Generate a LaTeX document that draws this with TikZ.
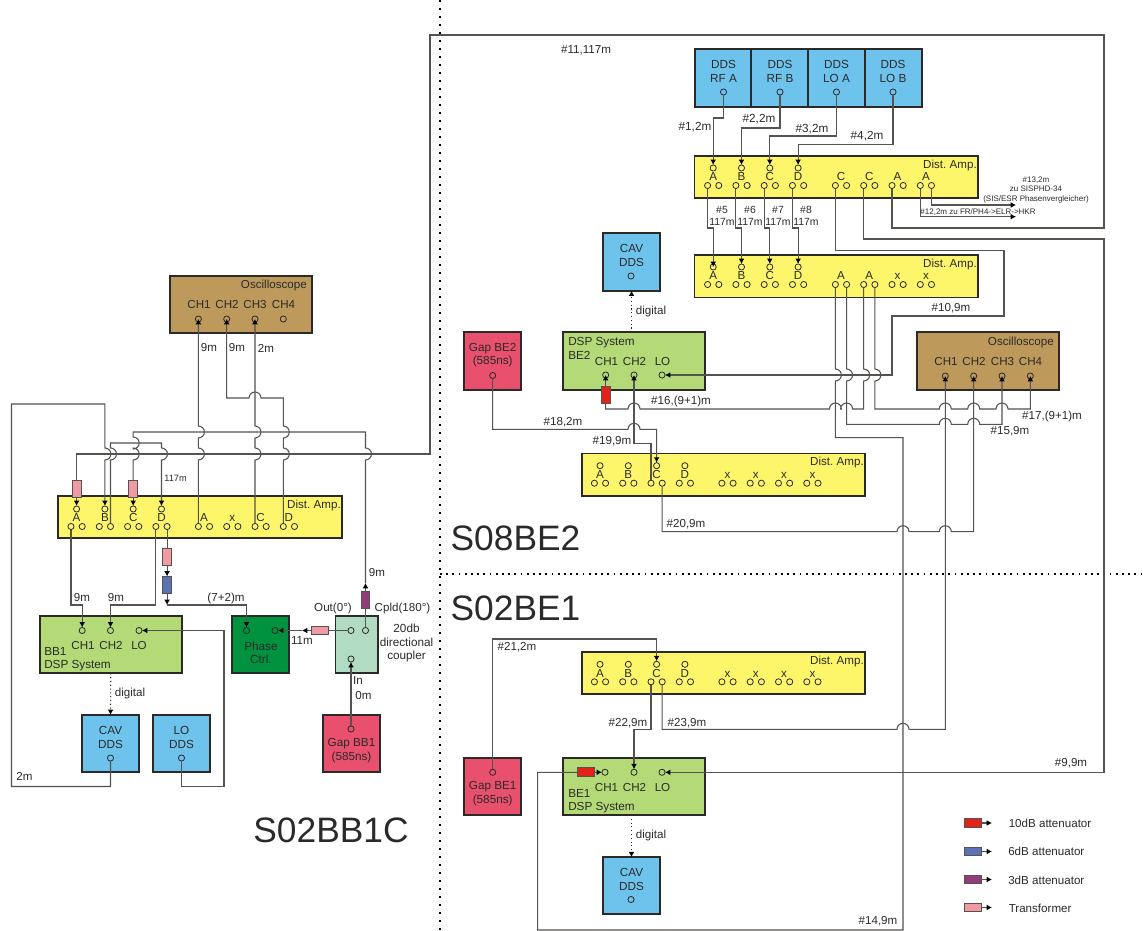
\documentclass[tikz,border=0pt]{standalone}
\usepackage{fontspec}
\setmainfont{Liberation Sans}
\usepackage{xcolor}
\usetikzlibrary{arrows.meta,calc}
\definecolor{ink}{HTML}{2B2A29}
\definecolor{wiregray}{HTML}{55524F}
\definecolor{ddsblue}{HTML}{6EC3EC}
\definecolor{ampyellow}{HTML}{FDF66A}
\definecolor{scopebrown}{HTML}{BD9A5C}
\definecolor{dspgreen}{HTML}{B3DA77}
\definecolor{phasegreen}{HTML}{00923F}
\definecolor{coupmint}{HTML}{B2DBC4}
\definecolor{gapred}{HTML}{E8506E}
\definecolor{attred}{HTML}{E2231A}
\definecolor{attblue}{HTML}{5B73B5}
\definecolor{attpurple}{HTML}{933C7C}
\definecolor{transpink}{HTML}{F09AA3}
% ports of one amplifier group: name, label, x, y of the upper port
\newcommand{\ampports}[4]{%
  \node[txt] (#1t) at (#3,#4+8.7) {#2};
  \node[port] (#1l) at (#3-5.6,#4+17.5) {};
  \node[port] (#1r) at (#3+5.6,#4+17.5) {};}
\newcommand{\ampin}[4]{%
  \node[port] (#1) at (#3,#4) {};
  \ampports{#1}{#2}{#3}{#4}}

\begin{document}
\frenchspacing
\begin{tikzpicture}[
    x=0.75pt, y=-0.75pt,
    box/.style={draw=ink, line width=1.4pt, inner sep=0pt, outer sep=0pt},
    ddsbox/.style={box, fill=ddsblue, minimum width=42.6pt, minimum height=42.9pt},
    gapbox/.style={box, fill=gapred, minimum width=42.6pt, minimum height=42.9pt},
    ampbox/.style={box, fill=ampyellow, minimum width=212.6pt, minimum height=31.9pt},
    scopebox/.style={box, fill=scopebrown, minimum width=106.4pt, minimum height=42.9pt},
    dspbox/.style={box, fill=dspgreen, minimum width=106.4pt, minimum height=42.9pt},
    port/.style={circle, draw=ink, line width=0.6pt, inner sep=0pt, outer sep=0pt, minimum size=4.6pt},
    txt/.style={font=\fontsize{8.7}{10}\selectfont, text=ink, inner sep=0pt, text height=6.2pt, text depth=0pt},
    lines/.style={font=\fontsize{8.8}{10}\selectfont, text=ink, inner sep=0pt, align=center},
    lenlbl/.style={font=\fontsize{8.7}{9.4}\selectfont, text=ink, inner sep=0pt, align=center},
    shortlbl/.style={font=\fontsize{7.8}{9.4}\selectfont, text=ink, inner sep=0pt, align=center},
    tiny/.style={font=\fontsize{6}{6.8}\selectfont, text=ink, inner sep=0pt, align=center},
    title/.style={font=\fontsize{26.5}{30}\selectfont, text=ink, inner sep=0pt},
    attv/.style={draw=wiregray, line width=0.7pt, inner sep=0pt, outer sep=0pt, minimum width=6.6pt, minimum height=12.8pt},
    atth/.style={draw=wiregray, line width=0.7pt, inner sep=0pt, outer sep=0pt, minimum width=13pt, minimum height=6.6pt},
    wire/.style={draw=wiregray, line width=0.8pt},
    arrow/.style={wire, -{Latex[length=4pt,width=4.4pt,color=black]}},
    digi/.style={draw=ink, line width=0.85pt, dotted, -{Latex[length=4pt,width=4.4pt,color=black]}},
    sector/.style={draw=black, line width=1.3pt, dash pattern=on 1.3pt off 4.7pt},
    sectorh/.style={draw=black, line width=1.3pt, dash pattern=on 1.3pt off 3.35pt},
    hopr/.style={to path={-- ($(\tikztotarget)+(-6,0)$) arc[start angle=180,end angle=360,radius=6]}},
    hopl/.style={to path={-- ($(\tikztotarget)+(6,0)$) arc[start angle=360,end angle=180,radius=6]}},
    hopd/.style={to path={-- ($(\tikztotarget)+(0,-6)$) arc[start angle=-90,end angle=90,radius=6]}},
    hopu/.style={to path={-- ($(\tikztotarget)+(0,6)$) arc[start angle=90,end angle=-90,radius=6]}}
]
\useasboundingbox (0,0) rectangle (1143,931);

% sector borders
\coordinate (sectop) at (440,0);
\coordinate (secbot) at (440,931);
\coordinate (secmid) at (440,574);
\coordinate (secend) at (1143,574);
\draw[sector] (sectop) -- (secbot);
\draw[sectorh] (secmid) -- (secend);

% S02BB1C
\node[scopebox] (sc) at (241,304.5) {};
\node[txt, anchor=east] (sct) at (307,284.5) {Oscilloscope};
\node[txt] (sc1t) at (199,304.5) {CH1};
\node[txt] (sc2t) at (227,304.5) {CH2};
\node[txt] (sc3t) at (255,304.5) {CH3};
\node[txt] (sc4t) at (283.5,304.5) {CH4};
\node[port] (scA) at (198.4,319) {};
\node[port] (scB) at (226.7,319) {};
\node[port] (scC) at (255,319) {};
\node[port] (scD) at (283.3,319) {};

\node[ampbox] (lamp) at (200,517) {};
\node[txt, anchor=east] (lampt) at (341,504.5) {Dist. Amp.};
\ampin{lA}{A}{76.6}{509}
\ampin{lB}{B}{104.9}{509}
\ampin{lC}{C}{133.2}{509}
\ampin{lD}{D}{161.5}{509}
\ampports{lE}{A}{204}{509}
\ampports{lF}{x}{232.3}{509}
\ampports{lG}{C}{260.6}{509}
\ampports{lH}{D}{288.9}{509}

\node[dspbox] (bb) at (110.75,644.7) {};
\node[lines, anchor=west, align=left] (bbt) at (44,659.5) {BB1\\DSP System};
\node[txt] (bb1t) at (83,645) {CH1};
\node[txt] (bb2t) at (111,645) {CH2};
\node[txt] (bb3t) at (139,645) {LO};
\node[port] (bbA) at (82.2,630.5) {};
\node[port] (bbB) at (110.5,630.5) {};
\node[port] (bbC) at (139,630.5) {};

\node[ddsbox] (cavl) at (110.5,743.5) {};
\node[lines] (cavlt) at (110.5,737.5) {CAV\\DDS};
\node[port] (cavlp) at (110.5,758) {};
\node[ddsbox] (lol) at (181.5,743.5) {};
\node[lines] (lolt) at (181.5,737.5) {LO\\DDS};
\node[port] (lolp) at (181.5,758) {};

\node[box, fill=phasegreen, minimum width=42.6pt, minimum height=42.9pt] (ph) at (260.5,644.7) {};
\node[lines] (pht) at (261,652.5) {Phase\\Ctrl.};
\node[port] (phA) at (246.5,630.5) {};
\node[port] (phB) at (275,630.5) {};

\node[box, fill=coupmint, minimum width=31.9pt, minimum height=42.9pt] (cp) at (356.7,644.7) {};
\node[port] (cpO) at (351,630.5) {};
\node[port] (cpC) at (365.5,630.5) {};
\node[port] (cpI) at (351,659) {};
\node[lines] (cpt) at (406.5,643) {20db\\directional\\coupler};
\node[txt] (cpot) at (333,607) {Out(0°)};
\node[txt] (cpct) at (402.5,607) {Cpld(180°)};
\node[txt] (cpit) at (358,680) {In};

\node[gapbox] (gapl) at (351.5,743.5) {};
\node[lines] (gaplt) at (351.5,750.5) {Gap BB1\\(585ns)};
\node[port] (gaplp) at (351,729) {};

\node[attv, fill=transpink] (trA) at (76.6,488.5) {};
\node[attv, fill=transpink] (trC) at (133.2,488.5) {};
\node[attv, fill=transpink] (trD) at (167.1,556.5) {};
\node[attv, fill=attblue] (atB) at (167.1,585) {};
\node[attv, fill=attpurple] (atP) at (365.5,599.5) {};
\node[atth, fill=transpink] (trO) at (320,630.5) {};
\coordinate (tipB) at (167.1,605);
\coordinate (tipP) at (365.5,583);
\coordinate (tipO) at (302,630.5);

\draw[arrow] (lEl) to[hopu] (198.4,454) to[hopu] (198.4,432) -- (scA.center);
\draw[arrow] (lHl) to[hopu] (283.3,454) to[hopu] (283.3,432) -- (283.3,398) to[hopl] (255,398) -| (scB.center);
\draw[arrow] (lGl) to[hopu] (255,454) to[hopu] (255,432) -- (scC.center);
\draw[wire] (tipP) to[hopu] (365.5,454) |- (133.2,432) to[hopd] (133.2,443) to[hopd] (133.2,454) -- (trC);
\draw[arrow] (trC) -- (lC);
\draw[arrow] (lBr) to[hopu] (110.5,454) |- (161.5,443) to[hopd] (161.5,454) -- (lD);
\draw[arrow] (cavlp) |- (11.5,786.5) |- (104.9,404) to[hopd] (104.9,454) -- (lB);
\draw[arrow] (trA) -- (lA);
\draw[arrow] (lAl) |- (82.2,605) -- (bbA);
\draw[arrow] (lDl) |- (110.5,605) -- (bbB);
\draw[wire] (lDr) -- (trD);
\draw[arrow] (trD) -- (atB);
\draw[arrow] (atB) -- (tipB);
\draw[arrow] (tipB) -| (phA);
\draw[arrow] (lolp) |- (224,786.5) |- (bbC);
\draw[digi] (bb.south) -- (cavl.north);
\draw[wire] (cpO) -- (trO);
\draw[arrow] (trO) -- (tipO);
\draw[arrow] (tipO) -- (phB);
\draw[wire] (cpC) -- (atP);
\draw[arrow] (atP) -- (tipP);
\draw[arrow] (gaplp) -- (cpI);

\node[lenlbl] (l9a) at (209,348) {9m};
\node[lenlbl] (l9b) at (237,348) {9m};
\node[lenlbl] (l2a) at (266,348) {2m};
\node[shortlbl, font=\fontsize{6.9}{8}\selectfont] (l117) at (175.5,478) {117m};
\node[lenlbl] (l9c) at (82,598) {9m};
\node[lenlbl] (l9d) at (116,598) {9m};
\node[lenlbl] (l72) at (226,598) {(7+2)m};
\node[lenlbl] (l9e) at (377,573) {9m};
\node[lenlbl] (l11) at (302,640.5) {11m};
\node[lenlbl] (l0) at (363.5,695.5) {0m};
\node[lenlbl] (l2b) at (24.5,776.5) {2m};
\node[lenlbl] (ldl) at (130,693.5) {digital};
\node[title] (bbtitle) at (331,830) {S02BB1C};

% S08BE2
\node[ddsbox] (dA) at (723,78) {};
\node[ddsbox] (dB) at (779.75,78) {};
\node[ddsbox] (dC) at (836.5,78) {};
\node[ddsbox] (dD) at (893.25,78) {};
\node[lines] (dAt) at (723.5,71.5) {DDS\\RF A};
\node[lines] (dBt) at (780,71.5) {DDS\\RF B};
\node[lines] (dCt) at (836.5,71.5) {DDS\\LO A};
\node[lines] (dDt) at (893,71.5) {DDS\\LO B};
\node[port] (dAp) at (723.5,92) {};
\node[port] (dBp) at (780,92) {};
\node[port] (dCp) at (836.5,92) {};
\node[port] (dDp) at (893,92) {};

\node[ampbox] (tamp) at (836.25,177) {};
\node[txt, anchor=east] (tampt) at (977,164.5) {Dist. Amp.};
\ampin{tA}{A}{713.2}{168}
\ampin{tB}{B}{741.5}{168}
\ampin{tC}{C}{769.8}{168}
\ampin{tD}{D}{798.1}{168}
\ampports{tE}{C}{841}{168}
\ampports{tF}{C}{869.3}{168}
\ampports{tG}{A}{897.6}{168}
\ampports{tH}{A}{925.9}{168}

\node[ampbox] (mamp) at (836.25,276.25) {};
\node[txt, anchor=east] (mampt) at (977,263.5) {Dist. Amp.};
\ampin{mA}{A}{713.2}{267}
\ampin{mB}{B}{741.5}{267}
\ampin{mC}{C}{769.8}{267}
\ampin{mD}{D}{798.1}{267}
\ampports{mE}{A}{841}{267}
\ampports{mF}{A}{869.3}{267}
\ampports{mG}{x}{897.6}{267}
\ampports{mH}{x}{925.9}{267}

\node[ddsbox] (cavt) at (631.5,262) {};
\node[lines] (cavtt) at (631.5,255.5) {CAV\\DDS};
\node[port] (cavtp) at (631,276) {};

\node[dspbox] (bt) at (634.15,361) {};
\node[lines, anchor=west, align=left] (btt) at (568,348.5) {DSP System\\BE2};
\node[txt] (bt1t) at (606.5,361.5) {CH1};
\node[txt] (bt2t) at (634.5,361.5) {CH2};
\node[txt] (bt3t) at (662.5,361.5) {LO};
\node[port] (btA) at (605.7,375) {};
\node[port] (btB) at (634,375) {};
\node[port] (btC) at (662,375) {};

\node[gapbox] (gapt) at (492.7,361) {};
\node[lines] (gaptt) at (492.7,355) {Gap BE2\\(585ns)};
\node[port] (gaptp) at (492.7,375.5) {};

\node[scopebox] (rs) at (988.2,361) {};
\node[txt, anchor=east] (rst) at (1054,341) {Oscilloscope};
\node[txt] (rs1t) at (946,361.5) {CH1};
\node[txt] (rs2t) at (974,361.5) {CH2};
\node[txt] (rs3t) at (1002.5,361.5) {CH3};
\node[txt] (rs4t) at (1030.5,361.5) {CH4};
\node[port] (rsA) at (945.3,376) {};
\node[port] (rsB) at (973.7,376) {};
\node[port] (rsC) at (1002,376) {};
\node[port] (rsD) at (1030.3,376) {};

\node[ampbox] (uamp) at (723.4,474.7) {};
\node[txt, anchor=east] (uampt) at (864,461.5) {Dist. Amp.};
\ampin{uA}{A}{600}{465.7}
\ampin{uB}{B}{628.3}{465.7}
\ampin{uC}{C}{656.6}{465.7}
\ampin{uD}{D}{684.9}{465.7}
\ampports{uE}{x}{727.5}{465.7}
\ampports{uF}{x}{755.8}{465.7}
\ampports{uG}{x}{784.1}{465.7}
\ampports{uH}{x}{812.4}{465.7}

\node[attv, fill=attred] (atT) at (605.7,395) {};
\coordinate (end12) at (1016,216.7);
\coordinate (end13) at (1016,205);

\draw[arrow] (dAp) |- (713.2,118) -- (tA);
\draw[arrow] (dBp) |- (741.5,128) -- (tB);
\draw[arrow] (dCp) |- (769.8,136) -- (tC);
\draw[arrow] (dDp) |- (798.1,144.5) -- (tD);
\draw[arrow] (tAl) |- (713.2,228) -- (mA.center);
\draw[arrow] (tBl) |- (741.5,228) -- (mB);
\draw[arrow] (tCl) |- (769.8,228) -- (mC);
\draw[arrow] (tDl) |- (798.1,228) -- (mD);
\draw[arrow] (tEl) |- (1004,250.5) |- (892,316) |- (btC);
\draw[wire] (tGl) |- (1104,228) |- (430,35) |- (76.6,454) -- (trA);
\draw[arrow] (tHl) |- (end12);
\draw[arrow] (tHr) |- (end13);
\draw[arrow] (mEr) to[hopd] (846.6,375) -- (846.6,424.3) to[hopr] (945.3,424.3) to[hopr] (973.7,424.3) -| (rsC.center);
\draw[wire] (mFl) to[hopd] (863.7,375) -- (863.7,409) to[hopl] (846.6,409) to[hopl] (835.4,409) to[hopl] (634,409) -| (atT);
\draw[arrow] (atT) -- (btA.center);
\draw[arrow] (mFr) to[hopd] (874.9,375) -- (874.9,409) to[hopr] (945.3,409) to[hopr] (973.7,409) to[hopr] (1002,409) -| (rsD.center);
\draw[arrow] (gaptp) -- (492.7,429.3) to[hopr] (634,429.3) -| (uC);
\draw[arrow] (uCl) |- (634,443.3) -- (btB.center);
\draw[arrow] (uCr) -- (662.2,531.7) to[hopr] (903,531.7) to[hopr] (945.3,531.7) -| (rsB.center);
\draw[digi] (bt.north -| cavt) -- (cavt.south);

\node[lenlbl] (n11) at (586,50.5) {\#11,117m};
\node[lines] (n1) at (695,127) {\#1,2m};
\node[lines] (n2) at (759,119) {\#2,2m};
\node[lines] (n3) at (812,129) {\#3,2m};
\node[lines] (n4) at (867,136.5) {\#4,2m};
\node[shortlbl] (n5) at (722,216) {\#5\\117m};
\node[shortlbl] (n6) at (750,216) {\#6\\117m};
\node[shortlbl] (n7) at (778,216) {\#7\\117m};
\node[shortlbl] (n8) at (806,216) {\#8\\117m};
\node[tiny] (n12) at (978,212) {\#12,2m zu FR/PH4->ELR->HKR};
\node[tiny] (n13) at (1036,190) {\#13,2m\\zu SISPHD-34\\(SIS/ESR Phasenvergleicher)};
\node[lenlbl] (n10) at (951,308.5) {\#10,9m};
\node[lenlbl] (ndt) at (651,311) {digital};
\node[lenlbl] (n16) at (681,401) {\#16,(9+1)m};
\node[lenlbl] (n17) at (1052,416) {\#17,(9+1)m};
\node[lenlbl] (n15) at (1010,431.5) {\#15,9m};
\node[lenlbl] (n18) at (563,422) {\#18,2m};
\node[lenlbl] (n19) at (612,441.5) {\#19,9m};
\node[lenlbl] (n20) at (686,524) {\#20,9m};
\node[title] (bt2title) at (515.5,538) {S08BE2};

% S02BE1
\node[ampbox] (vamp) at (723.4,673) {};
\node[txt, anchor=east] (vampt) at (864,660) {Dist. Amp.};
\ampin{vA}{A}{600}{664.3}
\ampin{vB}{B}{628.3}{664.3}
\ampin{vC}{C}{656.6}{664.3}
\ampin{vD}{D}{684.9}{664.3}
\ampports{vE}{x}{727.5}{664.3}
\ampports{vF}{x}{755.8}{664.3}
\ampports{vG}{x}{784.1}{664.3}
\ampports{vH}{x}{812.4}{664.3}

\node[gapbox] (gapb) at (492.7,786.3) {};
\node[lines] (gapbt) at (492.7,793.5) {Gap BE1\\(585ns)};
\node[port] (gapbp) at (492.7,772.3) {};

\node[dspbox] (bo) at (634.15,786.3) {};
\node[lines, anchor=west, align=left] (bot) at (568,801.5) {BE1\\DSP System};
\node[txt] (bo1t) at (606.5,787) {CH1};
\node[txt] (bo2t) at (634.5,787) {CH2};
\node[txt] (bo3t) at (662.5,787) {LO};
\node[port] (boA) at (605,772.3) {};
\node[port] (boB) at (634,772.3) {};
\node[port] (boC) at (662,772.3) {};
\node[atth, fill=attred] (atO) at (586,772.3) {};

\node[ddsbox] (cavb) at (631.5,885.7) {};
\node[lines] (cavbt) at (631.5,879.5) {CAV\\DDS};
\node[port] (cavbp) at (631,899.5) {};

\draw[arrow] (gapbp) |- (656.6,639) -- (vC);
\draw[arrow] (vCl) |- (634,729.3) -- (boB);
\draw[arrow] (vCr) -- (662.2,729.3) to[hopr] (903,729.3) -| (rsA.center);
\draw[arrow] (tFl) |- (1104,239) |- (boC);
\draw[wire] (mEl) to[hopd] (835.4,375) |- (903,437.7) |- (537.7,930) |- (atO);
\draw[arrow] (atO) -- (boA);
\draw[digi] (bo.south -| cavb) -- (cavb.north);

\node[lenlbl] (n21) at (517,647) {\#21,2m};
\node[lenlbl] (n22) at (628,723) {\#22,9m};
\node[lenlbl] (n23) at (687,723) {\#23,9m};
\node[lenlbl] (n9) at (1071,763) {\#9,9m};
\node[lenlbl] (n14) at (878,921) {\#14,9m};
\node[lenlbl] (ndb) at (651,835) {digital};
\node[title] (be1title) at (515.5,608) {S02BE1};

% legend
\node[atth, fill=attred] (leg1) at (973,823) {};
\node[atth, fill=attblue] (leg2) at (973,851.5) {};
\node[atth, fill=attpurple] (leg3) at (973,879.5) {};
\node[atth, fill=transpink] (leg4) at (973,907.5) {};
\coordinate (leg1e) at (992,823);
\coordinate (leg2e) at (992,851.5);
\coordinate (leg3e) at (992,879.5);
\coordinate (leg4e) at (992,907.5);
\draw[arrow] (leg1) -- (leg1e);
\draw[arrow] (leg2) -- (leg2e);
\draw[arrow] (leg3) -- (leg3e);
\draw[arrow] (leg4) -- (leg4e);
\node[lenlbl, anchor=west] (leg1t) at (1008.5,823) {10dB attenuator};
\node[lenlbl, anchor=west] (leg2t) at (1008,851.5) {6dB attenuator};
\node[lenlbl, anchor=west] (leg3t) at (1008,880) {3dB attenuator};
\node[lenlbl, anchor=west] (leg4t) at (1008.5,908) {Transformer};
\end{tikzpicture}
\end{document}
